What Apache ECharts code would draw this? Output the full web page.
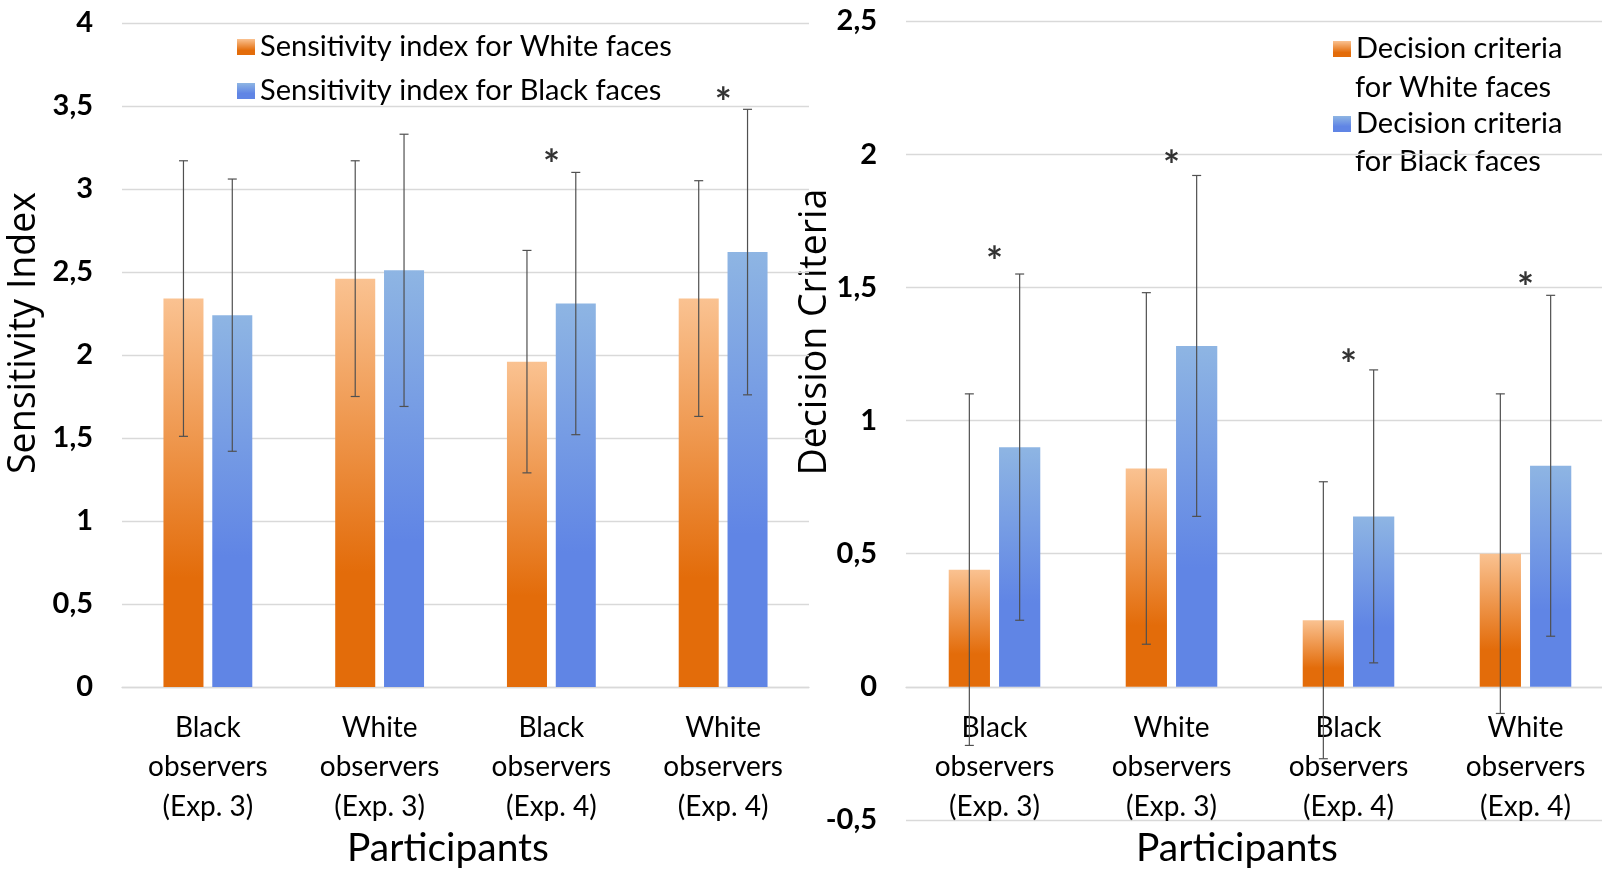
<!DOCTYPE html>
<html><head><meta charset="utf-8">
<script src="https://cdn.jsdelivr.net/npm/echarts@6/dist/echarts.min.js"></script>
<style>html,body{margin:0;padding:0;background:#fff}#c{width:1602px;height:876px}</style>
</head><body><div id="c"></div>
<script>
// ---- data ----
const categories = ['Black\nobservers\n(Exp. 3)', 'White\nobservers\n(Exp. 3)', 'Black\nobservers\n(Exp. 4)', 'White\nobservers\n(Exp. 4)'];
const sensWhite = [2.34, 2.46, 1.96, 2.34];
const sensWhiteSD = [0.83, 0.71, 0.67, 0.71];
const sensBlack = [2.24, 2.51, 2.31, 2.62];
const sensBlackSD = [0.82, 0.82, 0.79, 0.86];
const sensStars = [null, null, 3.2, 3.57];
const critWhite = [0.44, 0.82, 0.25, 0.50];
const critWhiteSD = [0.66, 0.66, 0.52, 0.60];
const critBlack = [0.90, 1.28, 0.64, 0.83];
const critBlackSD = [0.65, 0.64, 0.55, 0.64];
const critStars = [1.63, 1.99, 1.24, 1.53];
const sensTicks = {min: 0, max: 4, interval: 0.5};
const critTicks = {min: -0.5, max: 2.5, interval: 0.5};
const names = {
  sensW: 'Sensitivity index for White faces', sensB: 'Sensitivity index for Black faces',
  critW: 'Decision criteria for White faces', critB: 'Decision criteria for Black faces'
};

// ---- styles ----
const FONT = 'Lato';
const BAR_W = 0.233, BAR_GAP = 0.22;
const GRID_R = {left: 906, top: 21, width: 708, height: 799};
const orange = new echarts.graphic.LinearGradient(0, 0, 0, 1, [
  {offset: 0, color: '#FAC291'}, {offset: 0.72, color: '#E36C0A'}, {offset: 1, color: '#E36C0A'}]);
const blue = new echarts.graphic.LinearGradient(0, 0, 0, 1, [
  {offset: 0, color: '#8EB5E3'}, {offset: 0.65, color: '#6085E5'}, {offset: 1, color: '#6085E5'}]);
const comma = v => String(v).replace('.', ',');

function barSeries(name, data, color, idx) {
  return {type: 'bar', name, data, xAxisIndex: idx, yAxisIndex: idx,
    barWidth: (BAR_W * 100) + '%', barGap: (BAR_GAP * 100) + '%',
    itemStyle: {color}, z: 2, animation: false};
}
function errSeries(vals, sds, idx, side) {
  return {type: 'custom', xAxisIndex: idx, yAxisIndex: idx, z: 10, silent: true, animation: false,
    encode: {x: 0, y: [1, 2]},
    data: vals.map((v, i) => [i, v - sds[i], v + sds[i]]),
    renderItem(params, api) {
      const lo = api.coord([api.value(0), api.value(1)]);
      const hi = api.coord([api.value(0), api.value(2)]);
      const band = api.size([1, 0])[0];
      const x = lo[0] + side * band * BAR_W * (1 + BAR_GAP) / 2;
      const cap = 4.5;
      const st = {stroke: '#505050', lineWidth: 1.2};
      return {type: 'group', children: [
        {type: 'line', shape: {x1: x, y1: lo[1], x2: x, y2: hi[1]}, style: st},
        {type: 'line', shape: {x1: x - cap, y1: lo[1], x2: x + cap, y2: lo[1]}, style: st},
        {type: 'line', shape: {x1: x - cap, y1: hi[1], x2: x + cap, y2: hi[1]}, style: st}
      ]};
    }};
}
function starSeries(vals, idx) {
  return {type: 'scatter', xAxisIndex: idx, yAxisIndex: idx, symbolSize: 1, silent: true, animation: false,
    itemStyle: {color: 'rgba(0,0,0,0)'}, z: 12,
    data: vals.map((v, i) => v == null ? null : [i, v]),
    label: {show: true, position: 'inside', formatter: '*', offset: [0, 10],
      fontFamily: FONT, fontWeight: 'bold', fontSize: 40, color: '#000'}};
}
function xAxis(idx, offset) {
  return {type: 'category', gridIndex: idx, data: categories, position: 'bottom', offset,
    axisLine: {show: true, onZero: false, lineStyle: {color: '#D9D9D9', width: 1.3}},
    axisTick: {show: false},
    axisLabel: {fontFamily: FONT, fontSize: 28, color: '#000', lineHeight: 39.5, margin: 21, interval: 0}};
}
function yAxis(idx, t) {
  return {type: 'value', gridIndex: idx, min: t.min, max: t.max, interval: t.interval,
    axisLine: {show: false}, axisTick: {show: false},
    splitLine: {lineStyle: {color: '#D9D9D9', width: 1.3}},
    axisLabel: {formatter: comma, fontFamily: FONT, fontWeight: 'bold', fontSize: 29, color: '#000', margin: 29}};
}
// the right chart's category axis sits on its zero line
const rightZeroOffset = -GRID_R.height * (0 - critTicks.min) / (critTicks.max - critTicks.min);
const legendText = {fontFamily: FONT, fontSize: 29, color: '#000', lineHeight: 34};

const option = {
  backgroundColor: '#fff',
  animation: false,
  grid: [
    {left: 122, top: 23, width: 687, height: 664, outerBoundsMode: 'none', containLabel: false},
    Object.assign({outerBoundsMode: 'none', containLabel: false}, GRID_R)
  ],
  xAxis: [xAxis(0, 0), xAxis(1, rightZeroOffset)],
  yAxis: [yAxis(0, sensTicks), yAxis(1, critTicks)],
  legend: [
    {data: [names.sensW, names.sensB], orient: 'vertical', left: 232, top: 25, icon: 'rect',
      itemWidth: 18, itemHeight: 16, itemGap: 10, selectedMode: false, textStyle: legendText},
    {data: [names.critW, names.critB], orient: 'vertical', left: 1328, top: 27, icon: 'rect',
      itemWidth: 18, itemHeight: 16, itemGap: 41, selectedMode: false, textStyle: legendText,
      formatter: () => 'Decision criteria'}
  ],
  graphic: [
    {type: 'text', left: 1355, top: 73, style: {text: 'for White faces', fontFamily: FONT, fontSize: 29, fill: '#000'}},
    {type: 'text', left: 1355, top: 147, style: {text: 'for Black faces', fontFamily: FONT, fontSize: 29, fill: '#000'}},
    {type: 'text', x: 24, y: 333, rotation: Math.PI / 2,
      style: {text: 'Sensitivity Index', fontFamily: 'Open Sans', fontSize: 37.5, fill: '#000', align: 'center', verticalAlign: 'middle'}},
    {type: 'text', x: 815, y: 332, rotation: Math.PI / 2,
      style: {text: 'Decision Criteria', fontFamily: 'Open Sans', fontSize: 37.5, fill: '#000', align: 'center', verticalAlign: 'middle'}},
    {type: 'text', x: 448, y: 848,
      style: {text: 'Participants', fontFamily: FONT, fontSize: 39, fill: '#000', align: 'center', verticalAlign: 'middle'}},
    {type: 'text', x: 1237, y: 848,
      style: {text: 'Participants', fontFamily: FONT, fontSize: 39, fill: '#000', align: 'center', verticalAlign: 'middle'}}
  ],
  series: [
    barSeries(names.sensW, sensWhite, orange, 0),
    barSeries(names.sensB, sensBlack, blue, 0),
    errSeries(sensWhite, sensWhiteSD, 0, -1),
    errSeries(sensBlack, sensBlackSD, 0, 1),
    starSeries(sensStars, 0),
    barSeries(names.critW, critWhite, orange, 1),
    barSeries(names.critB, critBlack, blue, 1),
    errSeries(critWhite, critWhiteSD, 1, -1),
    errSeries(critBlack, critBlackSD, 1, 1),
    starSeries(critStars, 1)
  ]
};
const chart = echarts.init(document.getElementById('c'), null, {renderer: 'canvas'});
chart.setOption(option);
</script></body></html>
